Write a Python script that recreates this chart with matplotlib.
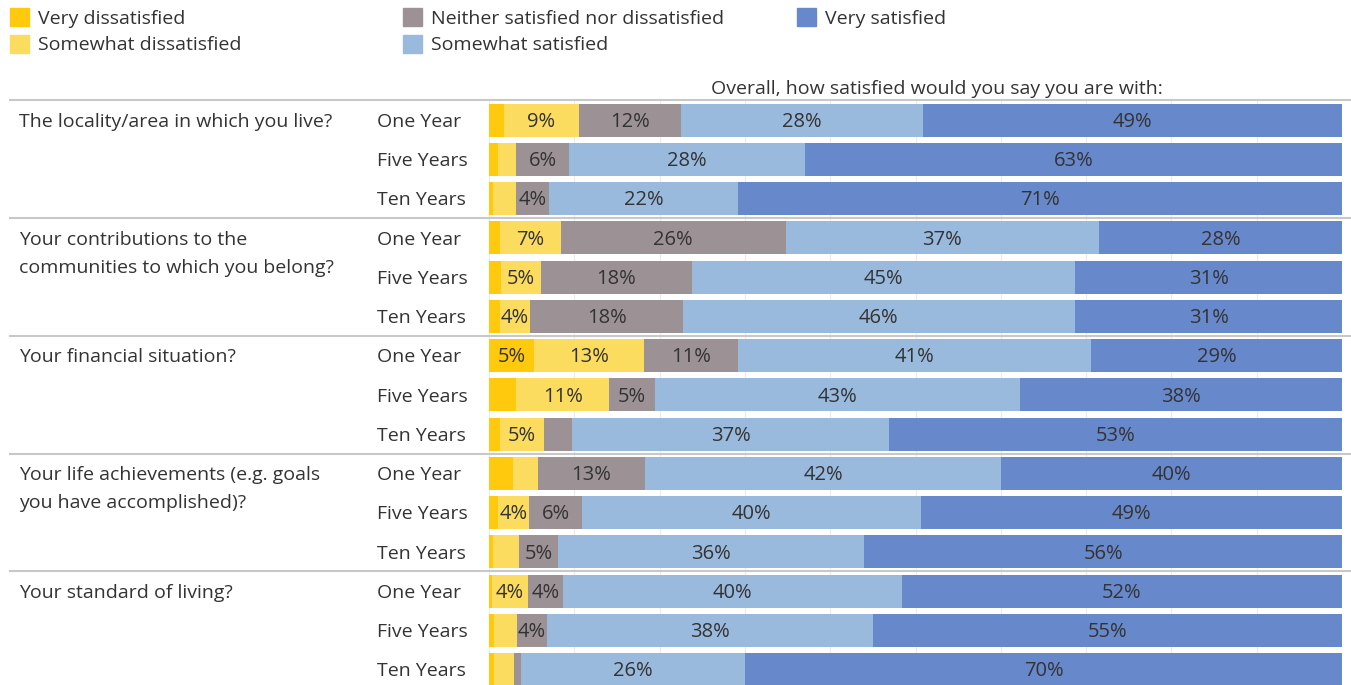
import numpy as np
import matplotlib.pyplot as plt
from matplotlib.patches import Rectangle

plt.rcParams['font.family'] = ['Open Sans', 'DejaVu Sans']

questions = ['The locality/area in which you live?',
             'Your contributions to the\ncommunities to which you belong?',
             'Your financial situation?',
             'Your life achievements (e.g. goals\nyou have accomplished)?',
             'Your standard of living?']
periods = ['One Year', 'Five Years', 'Ten Years']
categories = ['Very dissatisfied', 'Somewhat dissatisfied',
              'Neither satisfied nor dissatisfied', 'Somewhat satisfied', 'Very satisfied']
colors = ['#ffc90e', '#fcdc5f', '#9c9296', '#99badd', '#6788cb']

# percent per row (question x period), order: VD, SD, N, SS, VS
very_dis = [1.7, 1.1, 0.5, 1.3, 1.4, 1.25, 5.3, 3.2, 1.25, 2.8, 1.1, 0.5, 0.3, 0.55, 0.55]
some_dis = [8.8, 2.1, 2.7, 7.1, 4.7, 3.6, 12.9, 10.9, 5.2, 2.9, 3.6, 3.0, 4.3, 2.7, 2.4]
neither = [12.0, 6.2, 3.8, 26.4, 17.7, 17.9, 11.0, 5.4, 3.3, 12.6, 6.2, 4.6, 4.1, 3.6, 0.8]
some_sat = [28.4, 27.6, 22.2, 36.7, 44.9, 45.9, 41.4, 42.8, 37.2, 41.7, 39.8, 35.9, 39.7, 38.2, 26.3]
very_sat = [49.1, 63.0, 70.8, 28.5, 31.3, 31.4, 29.4, 37.7, 53.1, 40.0, 49.3, 56.0, 51.6, 55.0, 70.0]

series = [very_dis, some_dis, neither, some_sat, very_sat]
n = len(very_dis)
y = np.arange(n)

W, H = 1351, 685
fig = plt.figure(figsize=(W / 100, H / 100), dpi=100)
x0, x1 = 489, 1342
top = 100.4
pitch = 39.25
dy = 0.05  # small downward nudge for text centring
ax = fig.add_axes([x0 / W, 0, (x1 - x0) / W, (H - top) / H])
ax.set_xlim(0, 100)
ax.set_ylim(-0.5 + (H - top) / pitch, -0.5)

txt = '#333333'
left = np.zeros(n)
for vals, c in zip(series, colors):
    vals = np.array(vals)
    ax.barh(y, vals, left=left, height=0.84, color=c, edgecolor='none', zorder=2)
    for yi, l, v in zip(y, left, vals):
        if v >= 3.5:
            ax.text(l + v / 2, yi + dy, f'{round(v):.0f}%', ha='center', va='center',
                    fontsize=14.5, color=txt, zorder=3)
    left += vals

ax.set_xticks(np.arange(0, 101, 10))
ax.grid(axis='x', color='#ebebeb', lw=0.8, zorder=0)
ax.tick_params(left=False, bottom=False, labelleft=False, labelbottom=False)
for s in ax.spines.values():
    s.set_visible(False)
ax.axvline(0, color='#d8d8d8', lw=0.8, zorder=1)

# group separators
for b in [-0.5, 2.5, 5.5, 8.5, 11.5]:
    ax.axhline(b, xmin=(10 - x0) / (x1 - x0), xmax=(W - x0) / (x1 - x0),
               color='#c8c8c8', lw=1.5, clip_on=False, zorder=4)

# row labels
trans = ax.get_yaxis_transform()
for i in range(n):
    ax.text((377 - x0) / (x1 - x0), i + dy, periods[i % 3], transform=trans,
            ha='left', va='center', fontsize=14, color=txt)
for g, q in enumerate(questions):
    for k, line in enumerate(q.split('\n')):
        ax.text((19 - x0) / (x1 - x0), g * 3 + k * 28 / pitch + dy, line, transform=trans,
                ha='left', va='center', fontsize=14, color=txt)

fig.text(937 / W, 1 - 89 / H, 'Overall, how satisfied would you say you are with:',
         ha='center', va='center', fontsize=14, color=txt)

# legend
legend_pos = [(10, 17), (10, 44), (403, 17), (403, 44), (797, 17)]
for (lx, ly), cat, c in zip(legend_pos, categories, colors):
    fig.patches.append(Rectangle((lx / W, 1 - (ly + 9) / H), 19 / W, 18 / H,
                                 transform=fig.transFigure, color=c))
    fig.text((lx + 28) / W, 1 - (ly + 1.5) / H, cat, ha='left', va='center',
             fontsize=14, color=txt)

fig.savefig('out.png', dpi=100)
